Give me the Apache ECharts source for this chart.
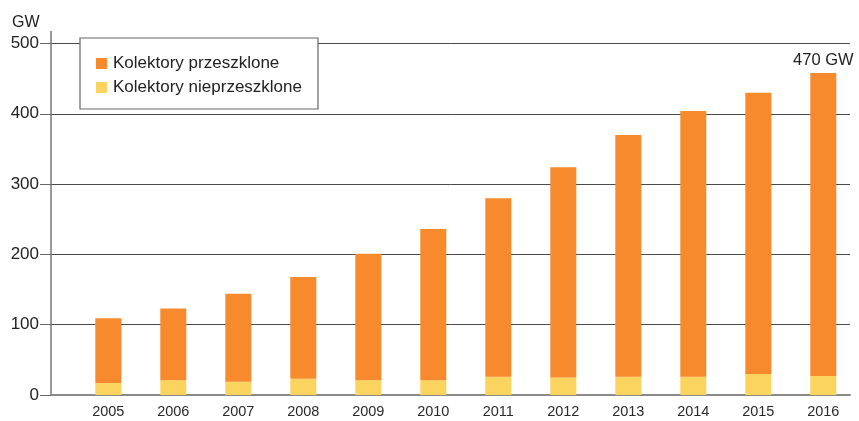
<!DOCTYPE html>
<html>
<head>
<meta charset="utf-8">
<script src="https://cdn.jsdelivr.net/npm/echarts@6/dist/echarts.min.js"></script>
<style>html,body{margin:0;padding:0;background:#fff;}#c{width:859px;height:421px;}</style>
</head>
<body>
<div id="c"></div>
<script>
var years = ['2005','2006','2007','2008','2009','2010','2011','2012','2013','2014','2015','2016'];
var glazed = [92,102,125,145,180,215,254,299,344,378,400,431];
var unglazed = [17,21,19,23,21,21,26,25,26,26,30,27];
var seriesNames = ['Kolektory przeszklone','Kolektory nieprzeszklone'];
var yTicks = [0,100,200,300,400,500];
var unitLabel = 'GW';
var lastLabel = '470 GW';

var font = '"Liberation Sans", Arial, sans-serif';
var chart = echarts.init(document.getElementById('c'), null, {renderer:'canvas'});
var glazedData = glazed.map(function(v,i){
  if (i === glazed.length-1) {
    return {value:v, label:{show:true, position:'top', distance:4, formatter:lastLabel,
      color:'#222', fontSize:16.5, fontFamily:font}};
  }
  return v;
});
chart.setOption({
  animation:false,
  textStyle:{fontFamily:font},
  title:{text:unitLabel, left:12, top:15, padding:0, textStyle:{fontSize:16, fontWeight:'normal', color:'#222', fontFamily:font}},
  legend:{
    data:seriesNames, orient:'vertical', left:80, top:38,
    padding:[17,16,13,16], itemGap:7, itemWidth:11, itemHeight:11,
    backgroundColor:'#fff', borderColor:'#666', borderWidth:1.2,
    icon:'rect',
    textStyle:{fontSize:17, color:'#222', fontFamily:font, padding:[0,0,0,1]}
  },
  grid:[
    {left:51, right:9, top:43.5, bottom:26},
    {left:75.8, right:3.2, top:43.5, bottom:26}
  ],
  xAxis:[
    {gridIndex:0, type:'value', min:0, max:1, show:true,
      axisLine:{show:true, lineStyle:{color:'#8a8a8a', width:2}},
      axisTick:{show:false}, axisLabel:{show:false}, splitLine:{show:false}},
    {gridIndex:1, type:'category', data:years,
      axisLine:{show:false}, axisTick:{show:false},
      axisLabel:{color:'#2a2a2a', fontSize:14.5, margin:9, fontFamily:font}}
  ],
  yAxis:[
    {gridIndex:0, type:'value', min:yTicks[0], max:yTicks[yTicks.length-1], interval:100,
      axisLine:{show:true, lineStyle:{color:'#777', width:1.5}},
      axisTick:{show:true, length:11, lineStyle:{color:'#666', width:1}},
      axisLabel:{color:'#222', fontSize:17, margin:12, fontFamily:font},
      splitLine:{show:true, lineStyle:{color:'#4a4a4a', width:1}}},
    {gridIndex:1, type:'value', min:yTicks[0], max:yTicks[yTicks.length-1], show:false}
  ],
  graphic:[
    {type:'line', shape:{x1:51, y1:31, x2:51, y2:44}, style:{stroke:'#777', lineWidth:1.5}, z:10}
  ],
  series:[
    {name:seriesNames[1], type:'bar', stack:'t', xAxisIndex:1, yAxisIndex:1,
      data:unglazed, barWidth:26, itemStyle:{color:'#FAD45E'}, z:3},
    {name:seriesNames[0], type:'bar', stack:'t', xAxisIndex:1, yAxisIndex:1,
      data:glazedData, barWidth:26, itemStyle:{color:'#F68A2C'}, z:3}
  ]
});
</script>
</body>
</html>
